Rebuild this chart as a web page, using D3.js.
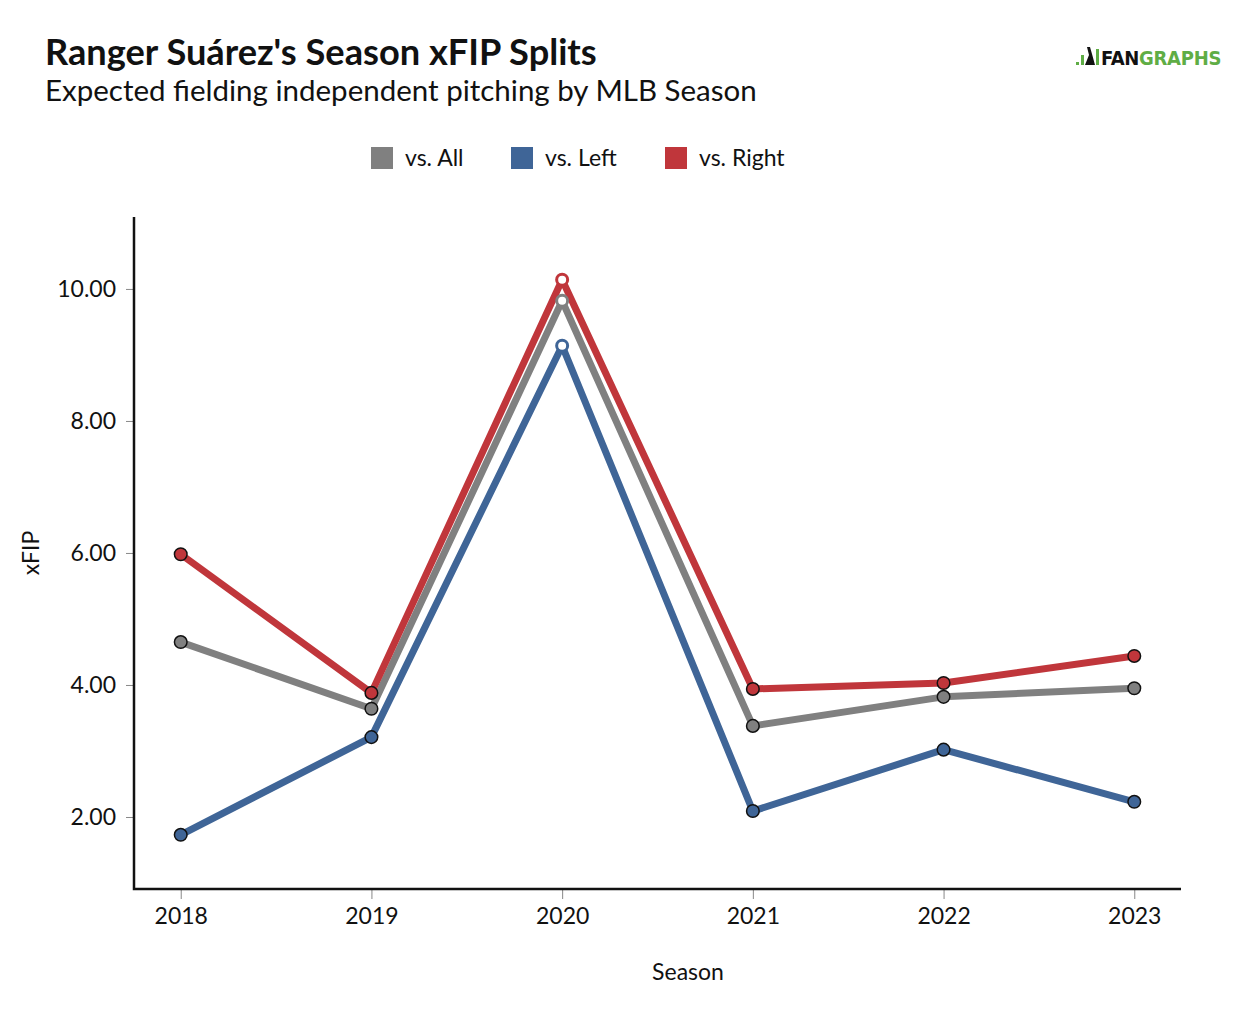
<!DOCTYPE html>
<html><head><meta charset="utf-8">
<script src="https://cdn.jsdelivr.net/npm/d3@7"></script>
<style>body{margin:0;background:#fff;font-family:Lato,sans-serif}</style>
</head><body>
<svg id="c" width="1258" height="1028"></svg>
<script>
const seasons = [2018, 2019, 2020, 2021, 2022, 2023];
const vsAll   = [4.65, 3.64, 9.82, 3.38, 3.82, 3.95];
const vsLeft  = [1.73, 3.21, 9.14, 2.09, 3.02, 2.23];
const vsRight = [5.98, 3.88, 10.14, 3.94, 4.03, 4.44];
const hollowSeasons = [2020];
const yTicks = [2, 4, 6, 8, 10];
const seriesNames = ["vs. All", "vs. Left", "vs. Right"];
const seriesColors = ["#808080", "#3f6597", "#c0363b"];

const svg = d3.select("#c");
const x = d3.scalePoint().domain(seasons).range([134, 1181]).padding(0.245);
const y = d3.scaleLinear().domain([0.909, 11.09]).range([889, 217]);

// titles
svg.append("text").attr("x", 45).attr("y", 65).attr("font-size", 36.2).attr("font-weight", 700).attr("fill", "#111").text("Ranger Suárez's Season xFIP Splits");
svg.append("text").attr("x", 45).attr("y", 101).attr("font-size", 29.5).attr("fill", "#111").text("Expected fielding independent pitching by MLB Season");

// logo
const lg = svg.append("g").attr("transform", "translate(1076,65)");
lg.append("rect").attr("x", 0).attr("y", -3).attr("width", 3).attr("height", 3).attr("fill", "#5fad45");
lg.append("rect").attr("x", 5).attr("y", -10).attr("width", 3).attr("height", 10).attr("fill", "#5fad45");
lg.append("path").attr("d", "M9,0 L13,-10 L11,-18 L14,-18 L16,-11 L19,0 Z").attr("fill", "#111");
lg.append("rect").attr("x", 20).attr("y", -16).attr("width", 3).attr("height", 16).attr("fill", "#5fad45");
lg.append("text").attr("x", 25).attr("y", 0).attr("font-size", 20).attr("font-weight", 700).attr("font-family", "'Liberation Sans Narrow','DejaVu Sans Condensed',Arial,sans-serif").attr("letter-spacing", -0.3)
  .call(t => { t.append("tspan").attr("fill", "#111").text("FAN"); t.append("tspan").attr("fill", "#5fad45").text("GRAPHS"); });

// legend
const legX = [371, 511, 665];
seriesNames.forEach((n, i) => {
  const g = svg.append("g").attr("transform", `translate(${legX[i]},147)`);
  g.append("rect").attr("width", 22).attr("height", 22).attr("fill", seriesColors[i]);
  g.append("text").attr("x", 34).attr("y", 19).attr("font-size", 23).attr("fill", "#111").text(n);
});

// axes
const yAxis = svg.append("g").attr("transform", "translate(134,0)")
  .call(d3.axisLeft(y).tickValues(yTicks).tickFormat(d3.format(".2f")).tickSize(8).tickPadding(10));
yAxis.select(".domain").remove();
yAxis.selectAll(".tick line").attr("stroke", "#888").attr("stroke-width", 1);
yAxis.selectAll(".tick text").attr("font-size", 23).attr("font-family", "Lato,sans-serif").attr("fill", "#111");

const xAxis = svg.append("g").attr("transform", "translate(0,889)")
  .call(d3.axisBottom(x).tickSize(10).tickPadding(9));
xAxis.select(".domain").remove();
xAxis.selectAll(".tick line").attr("stroke", "#888").attr("stroke-width", 1);
xAxis.selectAll(".tick text").attr("font-size", 23).attr("font-family", "Lato,sans-serif").attr("fill", "#111");

svg.append("path").attr("d", "M134,217 L134,889 L1181,889").attr("fill", "none").attr("stroke", "#111").attr("stroke-width", 2.5);

svg.append("text").attr("transform", "translate(39,553) rotate(-90)").attr("text-anchor", "middle").attr("font-size", 23).attr("fill", "#111").text("xFIP");
svg.append("text").attr("x", 688).attr("y", 980).attr("text-anchor", "middle").attr("font-size", 23).attr("fill", "#111").text("Season");

// series
const allSeries = [vsAll, vsLeft, vsRight];
const line = d3.line().x((d, i) => x(seasons[i])).y(d => y(d));
[0, 1, 2].forEach(si => {
  svg.append("path").datum(allSeries[si]).attr("d", line).attr("fill", "none")
    .attr("stroke", seriesColors[si]).attr("stroke-width", 7).attr("stroke-linejoin", "round");
});
[0, 1, 2].forEach(si => {
  svg.selectAll(null).data(allSeries[si]).enter().append("circle")
    .attr("cx", (d, i) => x(seasons[i])).attr("cy", d => y(d))
    .attr("r", (d, i) => hollowSeasons.includes(seasons[i]) ? 5.5 : 6.3)
    .attr("fill", (d, i) => hollowSeasons.includes(seasons[i]) ? "#fff" : seriesColors[si])
    .attr("stroke", (d, i) => hollowSeasons.includes(seasons[i]) ? seriesColors[si] : "#111")
    .attr("stroke-width", (d, i) => hollowSeasons.includes(seasons[i]) ? 3 : 1.5);
});
</script>
</body></html>
